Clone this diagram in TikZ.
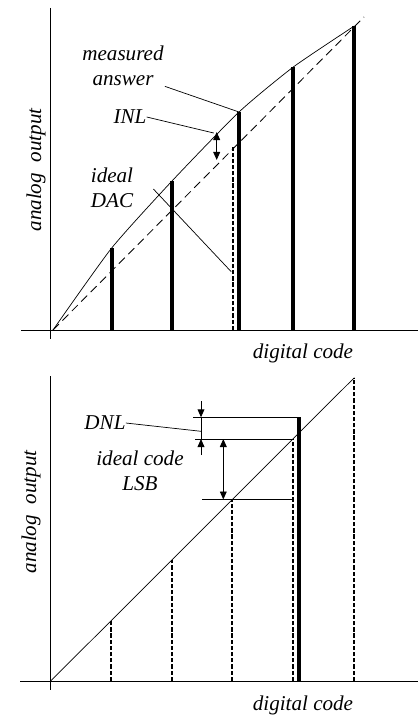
\documentclass[tikz,border=0pt]{standalone}
\usepackage{fontspec}
\setmainfont{Liberation Serif}
\usetikzlibrary{arrows.meta}
\usetikzlibrary{calc}
\newcommand{\drawCode}[3]{
	\coordinate (#1b) at (#2,681);
	\coordinate (#1t) at (#2,#3);
	\draw[codeline] (#1b) -- (#1t);
}

\begin{document}
\begin{tikzpicture}[x=0.025cm,y=-0.025cm,
	axis/.style={line width=0.7pt},
	thinline/.style={line width=0.5pt},
	bar/.style={line width=2.8pt},
	codeline/.style={line width=1.4pt, dash pattern=on 3pt off 1.4pt},
	ideal/.style={line width=0.6pt, dash pattern=on 6pt off 3.5pt},
	dimline/.style={line width=0.7pt, -{Triangle[length=2mm,width=1.7mm]}},
	dimboth/.style={line width=0.7pt, {Triangle[length=2mm,width=1.7mm]}-{Triangle[length=2mm,width=1.7mm]}},
	lbl/.style={font=\fontsize{15}{18}\selectfont\itshape, inner sep=0pt, align=center}]
\useasboundingbox (0,0) rectangle (418,716);
%%%%%%%%%%%%%%%%%%

%Top: INL
%Draw axes
\coordinate (ya1) at (50.7,8);
\coordinate (yb1) at (50.7,339);
\coordinate (xa1) at (21,330);
\coordinate (xb1) at (418,330);
\draw[axis] (ya1) -- (yb1);
\draw[axis] (xa1) -- (xb1);
\node[lbl, rotate=90] (yl1) at (36,170) {analog\ \ output};
\node[lbl] (xl1) at (303,353) {digital code};

% Ideal line and measured curve
\coordinate (s1) at (53,330);
\coordinate (e1) at (364,17);
\draw[ideal] (s1) -- (e1);
\foreach \x/\y [count=\i] in {111.7/248, 172/181, 239/112, 293.3/67, 354.3/26}
{
	\coordinate (b\i) at (\x,330);
	\coordinate (t\i) at (\x,\y);
	\draw[bar] (b\i) -- (t\i);
}
\draw[thinline] plot[smooth, tension=0.35] coordinates {(s1) (t1) (t2) (t3) (t4) (t5)};

% ideal code under the third bar
\coordinate (ib) at (232.7,330);
\coordinate (it) at (232.7,146.7);
\draw[codeline] (ib) -- (it);

% INL arrow
\coordinate (inlA) at (216.7,132);
\coordinate (inlB) at (216.7,160);
\draw[dimboth] (inlA) -- (inlB);

% Labels
\node[lbl] (meas) at (123,66) {measured\\answer};
\node[lbl] (inl) at (130,117) {INL};
\node[lbl] (dac) at (112,188) {ideal\\DAC};
\draw[thinline] ($(meas.south east)+(1,0)$) -- (t3);
\draw[thinline] (inl.east) -- ($(inlA)+(-3,1)$);
\draw[thinline] ($(dac.east)+(20,1)$) -- ($(it)+(-1.5,125)$);

%Bottom: DNL
%Draw axes
\coordinate (ya2) at (50.7,376);
\coordinate (yb2) at (50.7,690);
\coordinate (xa2) at (20,681);
\coordinate (xb2) at (418,681);
\draw[axis] (ya2) -- (yb2);
\draw[axis] (xa2) -- (xb2);
\node[lbl, rotate=90] (yl2) at (31,512) {analog\ \ output};
\node[lbl] (xl2) at (303,705) {digital code};

% Ideal codes
\coordinate (o2) at (50.7,681);
\drawCode{c1}{111.3}{620.7}
\drawCode{c2}{171.7}{560.3}
\drawCode{c3}{232.3}{499.7}
\drawCode{c4}{293}{439}
\drawCode{c5}{354.3}{377.7}
\draw[thinline] (o2) -- (c5t);

% Measured code
\coordinate (mb) at (299.3,681);
\coordinate (mt) at (299.3,417.3);
\draw[bar] (mb) -- (mt);

% Levels
\coordinate (lm) at (193.3,417.3);
\coordinate (li) at (195,439);
\coordinate (ll) at (202.3,499.5);
\coordinate (lr) at (293,499.5);
\draw[thinline] (lm) -- (mt);
\draw[thinline] (li) -- (c4t);
\draw[thinline] (ll) -- (lr);

% DNL and LSB arrows
\coordinate (dnlA) at (201,401);
\coordinate (dnlM) at (201,417.3);
\coordinate (dnlI) at (201,439);
\coordinate (dnlB) at (201,455);
\draw[dimline] (dnlA) -- (dnlM);
\draw[thinline] (dnlM) -- (dnlI);
\draw[dimline] (dnlB) -- (dnlI);
\coordinate (lsbA) at (223.3,439);
\coordinate (lsbB) at (223.3,499.5);
\draw[dimboth] (lsbA) -- (lsbB);

\node[lbl] (dnl) at (105,423) {DNL};
\node[lbl] (lsb) at (140,471) {ideal code\\LSB};
\draw[thinline] (dnl.east) -- ($(dnlM)+(0,14)$);
\end{tikzpicture}
\end{document}
